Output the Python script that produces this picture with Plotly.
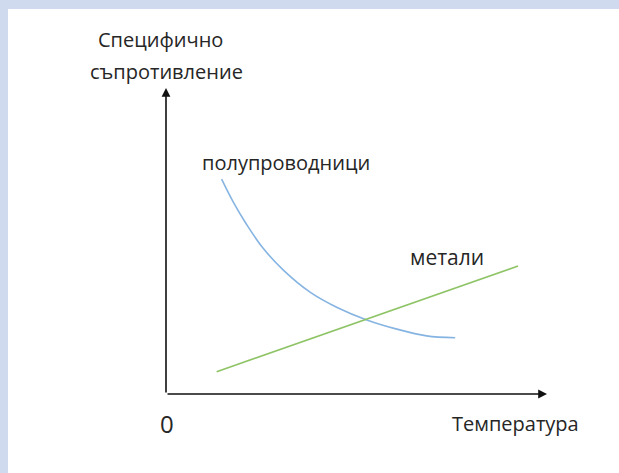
import plotly.graph_objects as go

# Semiconductor resistivity vs temperature (arbitrary units)
semi_T = [1.46, 1.77, 2.12, 2.55, 3.08, 3.78, 4.52, 5.27, 6.06, 6.84, 7.59]
semi_rho = [7.02, 6.26, 5.53, 4.76, 4.05, 3.33, 2.81, 2.42, 2.12, 1.90, 1.84]
# Metal resistivity vs temperature (linear)
metal_T = [1.33, 9.24]
metal_rho = [0.73, 4.18]

W, H = 619, 473
L, R, T, B = 166, 72, 88, 79
pw, ph = W - L - R, H - T - B
FONT = "Open Sans"
TXT = "#262626"
BORDER = "#cfdaee"

fig = go.Figure()
fig.add_trace(go.Scatter(x=semi_T, y=semi_rho, mode="lines", line=dict(color="#86b4e2", width=1.6, shape="spline", smoothing=1.0), hoverinfo="skip"))
fig.add_trace(go.Scatter(x=metal_T, y=metal_rho, mode="lines", line=dict(color="#8ec465", width=1.6), hoverinfo="skip"))

def px2paper_x(px):
    return (px - L) / pw

def px2paper_y(py):
    return (H - B - py) / ph

shapes = [
    dict(type="rect", xref="paper", yref="paper", x0=px2paper_x(0), x1=px2paper_x(W), y0=px2paper_y(9), y1=px2paper_y(0), fillcolor=BORDER, line_width=0, layer="below"),
    dict(type="rect", xref="paper", yref="paper", x0=px2paper_x(0), x1=px2paper_x(8), y0=px2paper_y(H), y1=px2paper_y(0), fillcolor=BORDER, line_width=0, layer="below"),
]

ann = []
# axes with arrows
ann.append(dict(x=10, y=0, ax=0, ay=0, xref="x", yref="y", axref="x", ayref="y", showarrow=True, arrowhead=2, arrowsize=1.1, arrowwidth=1.6, arrowcolor="#111", text=""))
ann.append(dict(x=0, y=10, ax=0, ay=0, xref="x", yref="y", axref="x", ayref="y", showarrow=True, arrowhead=2, arrowsize=1.1, arrowwidth=1.6, arrowcolor="#111", text=""))

def label(px, py, text, size=20):
    ann.append(dict(x=px2paper_x(px), y=px2paper_y(py), xref="paper", yref="paper", text=text, showarrow=False, font=dict(family=FONT, size=size, color=TXT), xanchor="center", yanchor="middle"))

label(286, 162, "полупроводници", 20)
label(447, 257, "метали", 21)
label(167, 423, "0", 24)
label(515, 423, "Температура", 20)
label(160, 40, "Специфично", 20)
label(166, 71, "съпротивление", 20)

fig.update_layout(
    width=W, height=H,
    margin=dict(l=L, r=R, t=T, b=B, pad=0),
    paper_bgcolor="white", plot_bgcolor="white",
    showlegend=False,
    xaxis=dict(range=[0, 10], visible=False, fixedrange=True),
    yaxis=dict(range=[0, 10], visible=False, fixedrange=True),
    shapes=shapes, annotations=ann,
)
fig.write_html("out.html", config={"displayModeBar": False},
               post_script="document.body.style.margin='0';document.body.style.overflow='hidden';")
